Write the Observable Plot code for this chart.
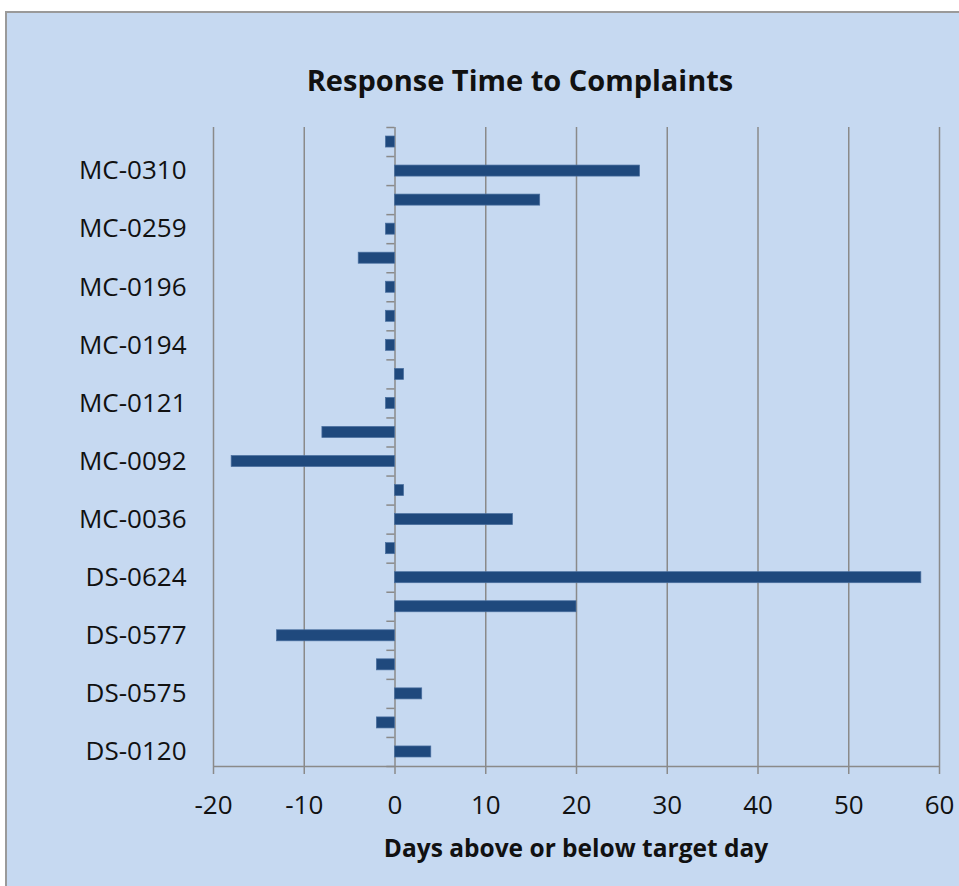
<!DOCTYPE html>
<html>
<head>
<meta charset="utf-8">
<script src="https://cdn.jsdelivr.net/npm/d3@7"></script>
<script src="https://cdn.jsdelivr.net/npm/@observablehq/plot@0.6"></script>
<style>
  body { margin: 0; background: #fff; width: 959px; height: 886px; overflow: hidden; position: relative; font-family: "Open Sans", sans-serif; color: #111; }
  #box { position: absolute; left: 5px; top: 11px; width: 1100px; height: 1000px; background: #C6D9F1; border-left: 2px solid #9a9a9a; border-top: 2px solid #9a9a9a; }
  #chart { position: absolute; left: 0; top: 0; }
  #title { position: absolute; left: 0; width: 1040px; top: 63px; line-height: 34px; text-align: center; font-weight: bold; font-size: 29px; }
  #xlabel { position: absolute; left: 0; width: 1152px; top: 832px; line-height: 32px; text-align: center; font-weight: bold; font-size: 24.5px; }
</style>
</head>
<body>
<div id="box"></div>
<div id="chart"></div>
<div id="title">Response Time to Complaints</div>
<div id="xlabel">Days above or below target day</div>
<script>
// Categories listed bottom to top; every other category label is hidden in the original (null = not shown)
const categories = ["DS-0120", null, "DS-0575", null, "DS-0577", null, "DS-0624", null,
  "MC-0036", null, "MC-0092", null, "MC-0121", null, "MC-0194", null, "MC-0196", null,
  "MC-0259", null, "MC-0310", null];
const values = [4, -2, 3, -2, -13, 20, 58, -1, 13, 1, -18, -8, -1, 1, -1, -1, -1, -4, -1, 16, 27, -1];
const xTicks = [-20, -10, 0, 10, 20, 30, 40, 50, 60];
const xDomain = [-20, 60];

const data = values.map((v, i) => ({i, label: categories[i], value: v}));
const labeledIdx = data.filter(d => d.label !== null).map(d => d.i);
const yLo = -0.5, yHi = categories.length - 0.5;
const boundaries = d3.range(yLo, yHi + 0.01, 1);
const half = 0.19;
const grid = "#8a8a8a";

const chart = Plot.plot({
  width: 959,
  height: 886,
  marginLeft: 213,
  marginRight: 20,
  marginTop: 127,
  marginBottom: 120,
  style: {background: "transparent", fontFamily: "'Open Sans', sans-serif", fontSize: "26px", color: "#111"},
  x: {domain: xDomain},
  y: {domain: [yLo, yHi]},
  marks: [
    Plot.ruleX(xTicks, {stroke: grid, strokeWidth: 1.5}),
    Plot.ruleY([yLo], {stroke: grid, strokeWidth: 1.5}),
    Plot.ruleY(boundaries, {x1: -0.9, x2: 0, stroke: grid, strokeWidth: 1.5}),
    Plot.rectX(data, {x1: 0, x2: "value", y1: d => d.i - half, y2: d => d.i + half, fill: "#1F497D", stroke: "#4a6f9f", strokeWidth: 0.7}),
    Plot.axisX({ticks: xTicks, tickSize: 8, tickFormat: () => "", stroke: grid, strokeWidth: 1.5, label: null}),
    Plot.axisX({ticks: xTicks, tickSize: 0, tickPadding: 29, tickFormat: d => String(d), label: null}),
    Plot.axisY({ticks: labeledIdx, tickFormat: i => categories[i], tickSize: 0, tickPadding: 27, label: null})
  ]
});
document.getElementById("chart").append(chart);
</script>
</body>
</html>
